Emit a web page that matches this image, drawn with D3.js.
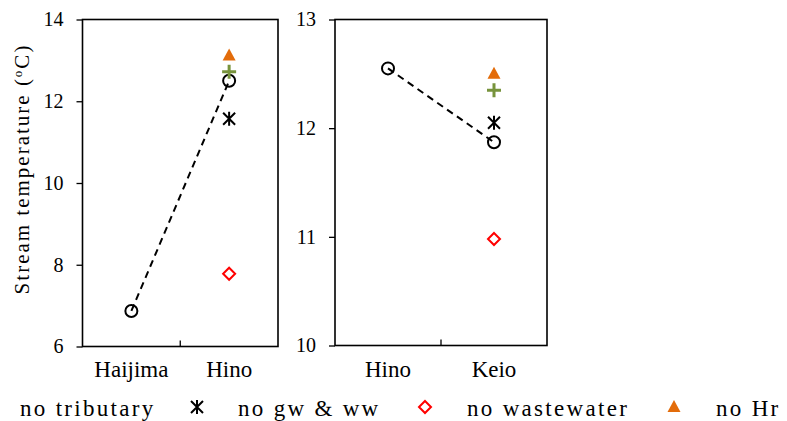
<!DOCTYPE html>
<html>
<head>
<meta charset="utf-8">
<script src="https://cdn.jsdelivr.net/npm/d3@7"></script>
<style>
  body { margin: 0; background: #fff; }
</style>
</head>
<body>
<svg width="787" height="421"></svg>
<script>
// data
const leftSites = ["Haijima", "Hino"];
const leftBase = [6.87, 12.5];           // circles joined by dashed line
const leftTrib = [null, 12.72];          // green plus
const leftGwWw = [null, 11.57];          // asterisk
const leftWw = [null, 7.78];             // diamond
const leftHr = [null, 13.12];            // triangle
const leftTicks = [6, 8, 10, 12, 14];

const rightSites = ["Hino", "Keio"];
const rightBase = [12.55, 11.87];
const rightTrib = [null, 12.35];
const rightGwWw = [null, 12.05];
const rightWw = [null, 10.98];
const rightHr = [null, 12.5];
const rightTicks = [10, 11, 12, 13];

const legendLabels = ["no tributary", "no gw & ww", "no wastewater", "no Hr"];

const orange = "#e36c0a";
const green = "#77933c";
const red = "#ff0000";
const serif = "Liberation Serif";

const svg = d3.select("svg");

function drawMarker(g, type, x, y) {
    if (type === "circle") {
        g.append("circle").attr("cx", x).attr("cy", y).attr("r", 6)
            .attr("fill", "none").attr("stroke", "#000").attr("stroke-width", 2);
    } else if (type === "plus") {
        g.append("path").attr("d", `M${x - 7},${y}H${x + 7}M${x},${y - 7}V${y + 7}`)
            .attr("stroke", green).attr("stroke-width", 3).attr("fill", "none");
    } else if (type === "aster") {
        g.append("path")
            .attr("d", `M${x - 6},${y - 6}L${x + 6},${y + 6}M${x + 6},${y - 6}L${x - 6},${y + 6}M${x},${y - 7}V${y + 7}`)
            .attr("stroke", "#000").attr("stroke-width", 2).attr("fill", "none");
    } else if (type === "diamond") {
        g.append("path").attr("d", `M${x},${y - 6}L${x + 6},${y}L${x},${y + 6}L${x - 6},${y}Z`)
            .attr("stroke", red).attr("stroke-width", 2).attr("fill", "none");
    } else if (type === "tri") {
        g.append("path").attr("d", `M${x},${y - 7}L${x + 6.5},${y + 5}L${x - 6.5},${y + 5}Z`)
            .attr("fill", orange);
    }
}

function panel(opts) {
    const { x0, x1, y0, y1, sites, domain, ticks, base, trib, gwww, ww, hr } = opts;
    const x = d3.scalePoint().domain(sites).range([x0, x1]).padding(0.5);
    const y = d3.scaleLinear().domain(domain).range([y1, y0]);
    const g = svg.append("g");

    // frame
    g.append("rect").attr("x", x0).attr("y", y0).attr("width", x1 - x0).attr("height", y1 - y0)
        .attr("fill", "none").attr("stroke", "#000").attr("stroke-width", 1.6);

    // y axis
    const ya = g.append("g").attr("transform", `translate(${x0},0)`)
        .call(d3.axisLeft(y).tickValues(ticks).tickSize(6).tickPadding(13).tickFormat(d3.format("d")));
    ya.select(".domain").remove();
    ya.selectAll("line").attr("stroke-width", 1.3);
    ya.selectAll("text").style("font-family", serif).style("font-size", "20px");

    // middle tick on the bottom
    g.append("line").attr("x1", (x0 + x1) / 2).attr("x2", (x0 + x1) / 2)
        .attr("y1", y1).attr("y2", y1 - 6).attr("stroke", "#000").attr("stroke-width", 1.3);

    // category labels
    g.selectAll(".cat").data(sites).enter().append("text")
        .attr("x", d => x(d)).attr("y", 377).attr("text-anchor", "middle")
        .style("font-family", serif).style("font-size", "23px").text(d => d);

    // dashed line through the circles
    g.append("path")
        .attr("d", d3.line().x((d, i) => x(sites[i])).y(d => y(d))(base))
        .attr("fill", "none").attr("stroke", "#000").attr("stroke-width", 2)
        .attr("stroke-dasharray", "7,5");

    base.forEach((v, i) => drawMarker(g, "circle", x(sites[i]), y(v)));
    [[hr, "tri"], [gwww, "aster"], [ww, "diamond"], [trib, "plus"]].forEach(([arr, t]) => {
        arr.forEach((v, i) => { if (v != null) drawMarker(g, t, x(sites[i]), y(v)); });
    });
}

panel({ x0: 82.5, x1: 278, y0: 19.5, y1: 346.5, sites: leftSites, domain: [6, 14], ticks: leftTicks,
    base: leftBase, trib: leftTrib, gwww: leftGwWw, ww: leftWw, hr: leftHr });
panel({ x0: 335, x1: 547, y0: 19.5, y1: 345.5, sites: rightSites, domain: [10, 13], ticks: rightTicks,
    base: rightBase, trib: rightTrib, gwww: rightGwWw, ww: rightWw, hr: rightHr });

// y title
svg.append("text")
    .attr("transform", "translate(29,169) rotate(-90)")
    .attr("text-anchor", "middle")
    .style("font-family", serif).style("font-size", "21px")
    .attr("letter-spacing", 2)
    .html('Stream temperature (<tspan baseline-shift="super" font-size="13">o</tspan>C)');

// legend (first marker falls outside the picture)
const leg = svg.append("g");
const legText = [20, 238, 467, 716];
const legMark = [null, "aster", "diamond", "tri"];
const legMarkX = [null, 197, 425, 674];
legendLabels.forEach((d, i) => {
    leg.append("text").attr("x", legText[i]).attr("y", 416)
        .style("font-family", serif).style("font-size", "23px")
        .attr("letter-spacing", 2.3).text(d);
    if (legMark[i]) drawMarker(leg, legMark[i], legMarkX[i], 407);
});
</script>
</body>
</html>
